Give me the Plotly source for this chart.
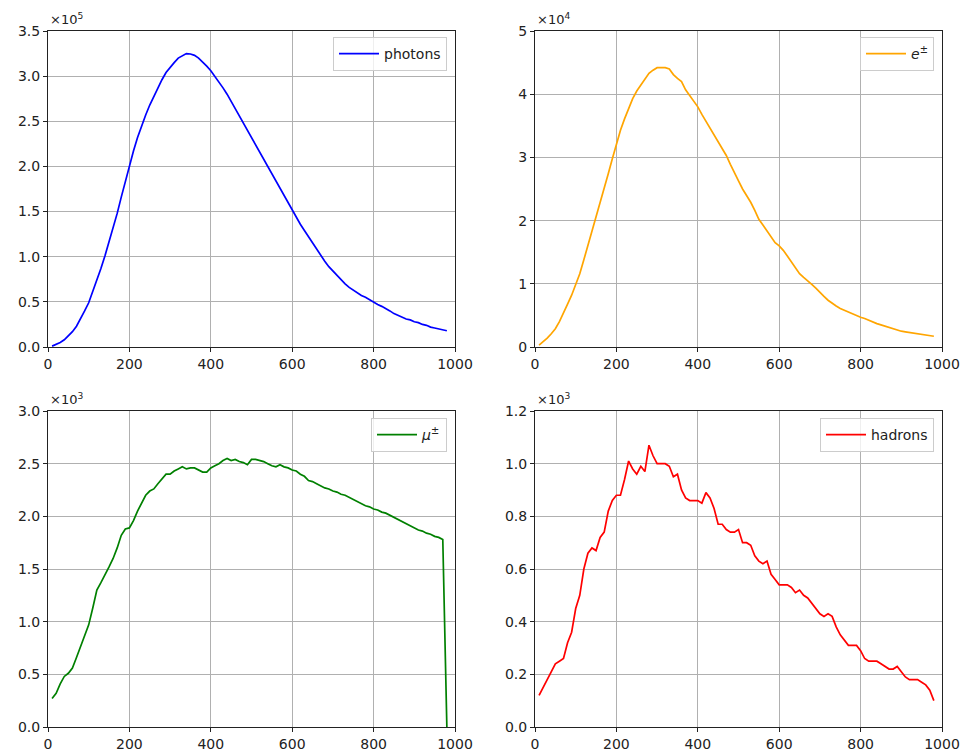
import plotly.graph_objects as go

# x positions (bin centres)
energy = list(range(10, 990, 10))

# values in units of the axis multiplier shown above each panel
photons_x1e5 = [0.01, 0.03, 0.05, 0.08, 0.12, 0.17, 0.23, 0.31, 0.40, 0.49,
                0.61, 0.74, 0.87, 1.01, 1.16, 1.31, 1.48, 1.66, 1.84, 2.01,
                2.17, 2.32, 2.45, 2.57, 2.68, 2.78, 2.88, 2.96, 3.04, 3.10,
                3.15, 3.20, 3.23, 3.25, 3.245, 3.23, 3.20, 3.16, 3.11, 3.06,
                3.00, 2.94, 2.87, 2.80, 2.72, 2.64, 2.56, 2.47, 2.39, 2.31,
                2.23, 2.15, 2.07, 1.99, 1.91, 1.83, 1.75, 1.67, 1.59, 1.51,
                1.44, 1.36, 1.29, 1.22, 1.15, 1.08, 1.01, 0.95, 0.89, 0.84,
                0.79, 0.74, 0.70, 0.66, 0.63, 0.60, 0.57, 0.55, 0.52, 0.50,
                0.47, 0.45, 0.42, 0.40, 0.37, 0.35, 0.33, 0.31, 0.30, 0.28,
                0.27, 0.25, 0.24, 0.22, 0.21, 0.20, 0.19, 0.18]

electrons_x1e4 = [0.03, 0.08, 0.14, 0.21, 0.29, 0.40, 0.53, 0.68, 0.82, 0.98,
                  1.16, 1.38, 1.60, 1.82, 2.04, 2.27, 2.50, 2.74, 2.98, 3.22,
                  3.43, 3.61, 3.78, 3.93, 4.05, 4.14, 4.25, 4.33, 4.38, 4.42,
                  4.42, 4.42, 4.40, 4.31, 4.25, 4.20, 4.07, 3.98, 3.90, 3.80,
                  3.68, 3.57, 3.46, 3.35, 3.24, 3.13, 3.03, 2.89, 2.75, 2.63,
                  2.50, 2.40, 2.29, 2.16, 2.02, 1.93, 1.84, 1.74, 1.65, 1.60,
                  1.53, 1.44, 1.35, 1.27, 1.16, 1.10, 1.05, 0.99, 0.93, 0.86,
                  0.80, 0.74, 0.69, 0.65, 0.61, 0.58, 0.55, 0.52, 0.50, 0.47,
                  0.45, 0.42, 0.40, 0.37, 0.35, 0.33, 0.30, 0.28, 0.26, 0.25,
                  0.24, 0.23, 0.22, 0.21, 0.20, 0.19, 0.18, 0.17]

muons_x1e3 = [0.27, 0.32, 0.41, 0.48, 0.51, 0.56, 0.66, 0.76, 0.87, 0.97,
              1.13, 1.30, 1.37, 1.44, 1.52, 1.60, 1.70, 1.82, 1.88, 1.89,
              1.96, 2.05, 2.13, 2.20, 2.24, 2.26, 2.31, 2.36, 2.40, 2.40,
              2.43, 2.45, 2.47, 2.45, 2.46, 2.46, 2.44, 2.42, 2.42, 2.46,
              2.48, 2.50, 2.53, 2.55, 2.53, 2.54, 2.52, 2.51, 2.49, 2.54,
              2.54, 2.53, 2.52, 2.50, 2.48, 2.47, 2.49, 2.47, 2.46, 2.44,
              2.43, 2.40, 2.38, 2.34, 2.33, 2.31, 2.29, 2.27, 2.26, 2.24,
              2.23, 2.21, 2.20, 2.18, 2.16, 2.14, 2.12, 2.10, 2.09, 2.07,
              2.06, 2.04, 2.03, 2.01, 1.99, 1.97, 1.95, 1.93, 1.91, 1.89,
              1.87, 1.86, 1.84, 1.83, 1.81, 1.80, 1.78, 0.0]

hadrons_x1e3 = [0.12, 0.15, 0.18, 0.21, 0.24, 0.25, 0.26, 0.32, 0.36, 0.45,
                0.50, 0.60, 0.66, 0.68, 0.67, 0.72, 0.74, 0.82, 0.86, 0.88,
                0.88, 0.94, 1.01, 0.98, 0.96, 0.99, 0.97, 1.07, 1.03, 1.00,
                1.00, 1.00, 0.99, 0.95, 0.96, 0.90, 0.87, 0.86, 0.86, 0.86,
                0.85, 0.89, 0.87, 0.83, 0.77, 0.77, 0.75, 0.74, 0.74, 0.75,
                0.70, 0.70, 0.69, 0.65, 0.63, 0.62, 0.63, 0.58, 0.56, 0.54,
                0.54, 0.54, 0.53, 0.51, 0.52, 0.50, 0.49, 0.47, 0.45, 0.43,
                0.42, 0.43, 0.42, 0.38, 0.35, 0.33, 0.31, 0.31, 0.31, 0.29,
                0.26, 0.25, 0.25, 0.25, 0.24, 0.23, 0.22, 0.22, 0.23, 0.21,
                0.19, 0.18, 0.18, 0.18, 0.17, 0.16, 0.14, 0.10]

x_ticks = [0, 200, 400, 600, 800, 1000]
photon_ticks = [0.0, 0.5, 1.0, 1.5, 2.0, 2.5, 3.0, 3.5]
electron_ticks = [0, 1, 2, 3, 4, 5]
muon_ticks = [0.0, 0.5, 1.0, 1.5, 2.0, 2.5, 3.0]
hadron_ticks = [0.0, 0.2, 0.4, 0.6, 0.8, 1.0, 1.2]

panels = [
    dict(y=photons_x1e5, name="photons", color="#0000ff", ticks=photon_ticks, fmt=".1f",
         mult="×10<sup>5</sup>", xa="x", ya="y", legend="legend"),
    dict(y=electrons_x1e4, name="<i>e</i><sup>±</sup>", color="#ffa500", ticks=electron_ticks, fmt="d",
         mult="×10<sup>4</sup>", xa="x2", ya="y2", legend="legend2"),
    dict(y=muons_x1e3, name="<i>μ</i><sup>±</sup>", color="#008000", ticks=muon_ticks, fmt=".1f",
         mult="×10<sup>3</sup>", xa="x3", ya="y3", legend="legend3"),
    dict(y=hadrons_x1e3, name="hadrons", color="#ff0000", ticks=hadron_ticks, fmt=".1f",
         mult="×10<sup>3</sup>", xa="x4", ya="y4", legend="legend4"),
]

W, H = 963, 756
# target plot-area edges in page pixels
L, R, T, B = 48, 942, 31, 727
ml, mr, mt, mb = L, W - R, T, H - B
pw, ph = R - L, B - T

def px_x(p):
    return (p - L) / pw

def px_y(p):
    return (B - p) / ph

xdom = [[0, px_x(455)], [px_x(535), 1]]
ydom = [[px_y(347), 1], [0, px_y(411)]]

fig = go.Figure()
font = dict(family="DejaVu Sans", size=14, color="#222222")

layout = dict(width=W, height=H,
              margin=dict(l=ml, r=mr, t=mt, b=mb, autoexpand=False),
              paper_bgcolor="white", plot_bgcolor="white", font=font, annotations=[])

for i, p in enumerate(panels):
    col = i % 2
    row = i // 2
    fig.add_trace(go.Scatter(x=energy, y=p["y"], mode="lines", name=p["name"],
                             line=dict(color=p["color"], width=1.7),
                             xaxis=p["xa"], yaxis=p["ya"], legend=p["legend"],
                             showlegend=True))
    axis_common = dict(showline=True, linecolor="#222222", linewidth=1, mirror=True,
                       showgrid=True, gridcolor="#b0b0b0", gridwidth=0.8,
                       ticks="outside", ticklen=4, tickcolor="#222222",
                       zeroline=False, tickfont=font, automargin=False)
    xkey = "xaxis" if i == 0 else f"xaxis{i+1}"
    ykey = "yaxis" if i == 0 else f"yaxis{i+1}"
    layout[xkey] = dict(axis_common, domain=xdom[col], range=[0, 1000],
                        tickvals=x_ticks, anchor=p["ya"])
    layout[ykey] = dict(axis_common, domain=ydom[row], range=[p["ticks"][0], p["ticks"][-1]],
                        tickvals=p["ticks"], tickformat=p["fmt"], anchor=p["xa"])
    right = 447 if col == 0 else 934
    top = 37 if row == 0 else 418
    layout[p["legend"]] = dict(x=px_x(right), y=px_y(top), xanchor="right", yanchor="top",
                               bgcolor="rgba(255,255,255,0.8)", bordercolor="#cccccc",
                               borderwidth=1, font=dict(family="DejaVu Sans", size=14, color="#222222"),
                               itemwidth=40)
    layout["annotations"].append(dict(text=p["mult"], xref=f"{p['xa']} domain",
                                      yref=f"{p['ya']} domain", x=0, y=1.005,
                                      xanchor="left", yanchor="bottom", showarrow=False,
                                      font=dict(family="DejaVu Sans", size=13, color="#222222")))

fig.update_layout(**layout)
fig.write_html("out.html", config={"displayModeBar": False},
               post_script="document.body.style.margin='0px';document.body.style.overflow='hidden';")
